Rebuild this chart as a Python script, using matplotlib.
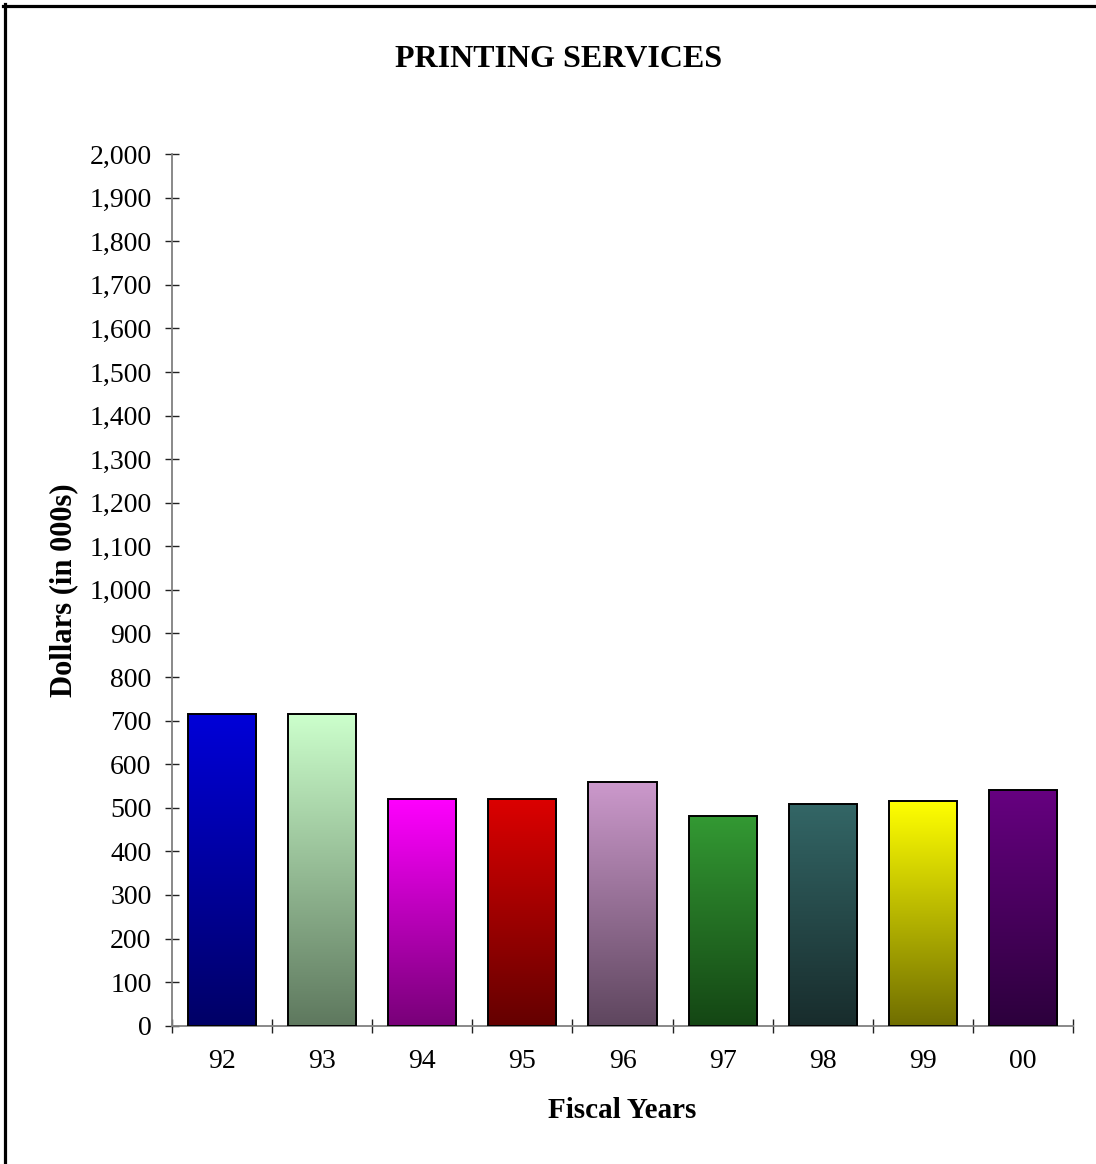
import numpy as np
import matplotlib
matplotlib.use("Agg")
import matplotlib.pyplot as plt
from matplotlib.colors import to_rgb
from matplotlib.lines import Line2D

plt.rcParams['font.family'] = ['Liberation Serif', 'DejaVu Serif']

years = ["92", "93", "94", "95", "96", "97", "98", "99", "00"]
values = [715, 715, 521, 521, 560, 480, 508, 515, 540]
top_colors = ["#0000d8", "#ccffcc", "#ff00ff", "#dc0000", "#cc99cc",
              "#339933", "#336666", "#ffff00", "#660080"]
bottom_colors = ["#000066", "#5e785e", "#780078", "#640000", "#5e465e",
                 "#144614", "#182c2c", "#706e00", "#2c003c"]
title = "PRINTING SERVICES"
xlabel = "Fiscal Years"
ylabel = "Dollars (in 000s)"
yticks = list(range(0, 2001, 100))

W, H = 1096, 1164
fig = plt.figure(figsize=(W / 100, H / 100), dpi=100)
fig.patch.set_facecolor("white")

x0, x1, ytop, ybot = 172, 1073, 154, 1025.7
ax = fig.add_axes([x0 / W, 1 - ybot / H, (x1 - x0) / W, (ybot - ytop) / H])

xs = np.arange(len(years))
bars = ax.bar(xs, values, width=0.68, facecolor="none", edgecolor="black",
              linewidth=1.4, zorder=3)

for b, tc, bc in zip(bars, top_colors, bottom_colors):
    t = np.array(to_rgb(tc))
    bo = np.array(to_rgb(bc))
    f = np.linspace(0, 1, 256)[:, None]
    grad = (bo[None, :] * (1 - f) + t[None, :] * f)[:, None, :]
    bx, by, bw, bh = b.get_x(), b.get_y(), b.get_width(), b.get_height()
    im = ax.imshow(grad, extent=(bx, bx + bw, by, by + bh), origin="lower",
                   aspect="auto", zorder=2, interpolation="bilinear")
    im.set_clip_path(b)

ax.set_xlim(-0.5, len(years) - 0.5)
ax.set_ylim(0, 2000)
ax.set_aspect("auto")

ax.set_xticks(np.arange(-0.5, len(years), 1.0))
ax.set_xticklabels([])
ax.set_xticks(xs, minor=True)
ax.set_xticklabels(years, minor=True)
ax.tick_params(axis="x", which="major", direction="inout", length=10, width=1, color="#222222")
ax.tick_params(axis="x", which="minor", length=0, pad=17, labelsize=20)

ax.set_yticks(yticks)
ax.set_yticklabels([f"{v:,}" for v in yticks])
ax.tick_params(axis="y", direction="inout", length=9.4, width=1, color="#222222",
               pad=10, labelsize=20)

for s in ["top", "right"]:
    ax.spines[s].set_visible(False)
for s in ["left", "bottom"]:
    ax.spines[s].set_color("#808080")
    ax.spines[s].set_linewidth(1.3)

fig.text(559 / W, 1 - 67 / H, title, ha="center", va="baseline",
         fontsize=23, fontweight="bold")
fig.text(622.5 / W, 1 - 1118 / H, xlabel, ha="center", va="baseline",
         fontsize=21, fontweight="bold")
fig.text(71 / W, 1 - 590 / H, ylabel, ha="center", va="baseline",
         rotation=90, rotation_mode="anchor", fontsize=22, fontweight="bold")

# outer frame (top and left edges)
fig.add_artist(Line2D([3 / W, 1], [1 - 5.5 / H, 1 - 5.5 / H], color="black",
                      linewidth=2.3, transform=fig.transFigure))
fig.add_artist(Line2D([4.8 / W, 4.8 / W], [0, 1 - 4 / H], color="black",
                      linewidth=2.3, transform=fig.transFigure))

fig.savefig("out.png", dpi=100, facecolor="white")
